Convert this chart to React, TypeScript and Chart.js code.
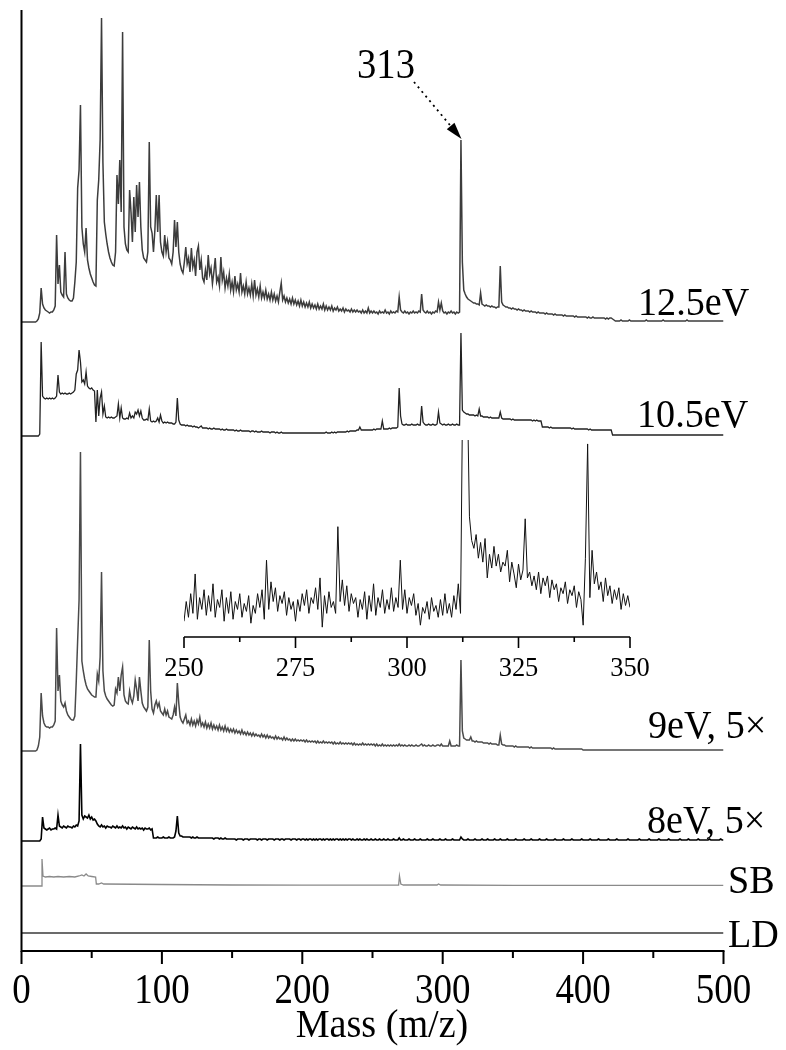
import React, { useEffect, useRef } from "react";
import { Chart, registerables } from "chart.js";

Chart.register(...registerables);

// ---------------- data ----------------
// mass axis
const MASS_MIN = 0;
const MASS_MAX = 500;
const MASS_STEP = 1; // spectra sampled every 1 m/z from 0 to 500
const MAIN_TICKS = [0, 100, 200, 300, 400, 500];
const MAIN_MINOR = [50, 150, 250, 350, 450];

// intensities above each trace's own baseline (arbitrary units)
const I_125 = [
  0, 0, 0, 0, 0, 0, 0, 0, 0, 0,
  0, 1, 3, 9, 34, 18, 14, 12, 11, 10,
  9, 10, 10, 12, 16, 87, 38, 57, 30, 27,
  25, 70, 28, 24, 22, 21, 21, 24, 40, 60,
  134, 152, 217, 95, 78, 70, 94, 62, 54, 48,
  44, 40, 37, 36, 122, 142, 182, 304, 159, 100,
  88, 78, 70, 64, 60, 57, 56, 70, 147, 118,
  162, 110, 290, 95, 78, 72, 70, 132, 110, 80,
  125, 90, 137, 105, 140, 95, 72, 64, 62, 60,
  70, 180, 95, 89, 70, 92, 127, 90, 127, 80,
  70, 66, 87, 70, 80, 64, 62, 58, 70, 102,
  75, 100, 70, 58, 52, 49, 60, 75, 58, 64,
  50, 74, 55, 62, 46, 70, 76, 52, 62, 44,
  40, 52, 42, 67, 48, 54, 38, 50, 64, 40,
  45, 36, 65, 42, 50, 34, 44, 36, 48, 32,
  40, 30, 46, 32, 38, 30, 49, 30, 36, 28,
  40, 28, 34, 27, 38, 26, 42, 27, 33, 25,
  36, 24, 30, 24, 32, 23, 28, 22, 30, 22,
  28, 21, 26, 20, 30, 39, 22, 26, 20, 24,
  19, 23, 18, 24, 18, 22, 17, 21, 16, 22,
  16, 20, 15, 19, 15, 20, 14, 18, 14, 17,
  13, 18, 13, 16, 13, 18, 12, 16, 12, 15,
  12, 16, 11, 14, 12, 15, 11, 13, 11, 14,
  10, 13, 11, 12, 10, 13, 10, 12, 10, 12,
  10, 11, 9, 12, 9, 11, 9, 14, 9, 11,
  9, 11, 9, 10, 8, 11, 9, 10, 9, 12,
  9, 10, 8, 11, 9, 10, 9, 11, 10, 25,
  12, 10, 9, 11, 9, 10, 8, 10, 9, 11,
  9, 10, 9, 11, 10, 28, 12, 10, 9, 11,
  9, 10, 8, 10, 9, 11, 10, 20, 12, 19,
  11, 9, 10, 8, 10, 9, 11, 9, 10, 8,
  10, 9, 10, 182, 60, 32, 28, 25, 23, 22,
  21, 20, 19, 19, 18, 18, 17, 29, 18, 17,
  16, 17, 16, 16, 15, 16, 15, 15, 14, 15,
  15, 56, 20, 17, 16, 15, 15, 14, 14, 13,
  14, 13, 13, 12, 13, 12, 12, 11, 12, 11,
  11, 11, 10, 11, 10, 10, 10, 9, 10, 9,
  9, 9, 9, 8, 9, 8, 8, 8, 8, 7,
  8, 7, 7, 7, 7, 7, 6, 7, 6, 6,
  6, 6, 6, 6, 5, 6, 5, 5, 5, 5,
  5, 5, 5, 4, 5, 4, 4, 5, 4, 4,
  4, 4, 4, 4, 4, 4, 3, 4, 3, 4,
  4, 3, 2, 1, 1, 1, 1, 2, 1, 1,
  1, 1, 1, 2, 1, 1, 1, 1, 1, 1,
  1, 1, 1, 1, 1, 2, 1, 1, 1, 1,
  1, 1, 1, 1, 1, 1, 1, 2, 1, 1,
  1, 1, 1, 1, 1, 1, 1, 1, 1, 1,
  1, 1, 1, 1, 2, 1, 1, 1, 1, 1,
  1, 1, 1, 1, 1, 1, 1, 1, 1, 1,
  1, 1, 1, 1, 1, 1, 1, 1, 1, 1, 1,
];

const I_105 = [
  0, 0, 0, 0, 0, 0, 0, 0, 0, 0,
  0, 0, 0, 2, 94, 40, 38, 37, 38, 37,
  38, 37, 38, 37, 38, 40, 61, 44, 42, 43,
  42, 43, 42, 42, 43, 42, 43, 44, 46, 62,
  66, 86, 74, 54, 56, 52, 64, 50, 48, 47,
  48, 46, 45, 14, 46, 20, 38, 44, 22, 30,
  19, 18, 19, 18, 19, 18, 18, 19, 20, 32,
  18, 28, 18, 17, 17, 18, 17, 23, 18, 20,
  18, 24, 22, 26, 20, 25, 18, 16, 16, 17,
  16, 27, 15, 14, 15, 14, 15, 18, 14, 21,
  15, 13, 14, 13, 14, 13, 13, 13, 12, 12,
  14, 38, 16, 12, 11, 11, 11, 10, 11, 10,
  10, 10, 9, 10, 9, 9, 8, 9, 10, 8,
  8, 8, 8, 7, 8, 7, 7, 8, 7, 7,
  7, 7, 6, 7, 6, 6, 7, 6, 6, 6,
  6, 6, 5, 6, 5, 5, 6, 5, 5, 5,
  5, 5, 5, 4, 5, 5, 4, 5, 4, 4,
  4, 5, 4, 4, 4, 4, 4, 3, 4, 4,
  4, 3, 4, 3, 3, 4, 3, 3, 3, 3,
  3, 3, 3, 3, 3, 3, 3, 3, 3, 3,
  3, 3, 3, 3, 3, 3, 3, 3, 3, 3,
  3, 3, 3, 3, 3, 3, 3, 4, 3, 3,
  3, 4, 3, 4, 3, 4, 4, 4, 4, 4,
  4, 4, 5, 4, 5, 5, 5, 5, 5, 6,
  6, 9, 6, 6, 6, 6, 6, 6, 6, 6,
  6, 7, 6, 7, 7, 7, 7, 15, 7, 7,
  7, 7, 8, 7, 8, 8, 8, 8, 9, 48,
  20, 12, 11, 11, 12, 11, 11, 11, 12, 11,
  11, 11, 12, 11, 11, 30, 14, 12, 11, 11,
  12, 11, 11, 12, 11, 11, 12, 24, 13, 12,
  11, 12, 11, 11, 12, 11, 11, 12, 11, 11,
  12, 11, 11, 103, 26, 24, 23, 22, 22, 21,
  21, 21, 21, 20, 21, 20, 27, 20, 20, 19,
  19, 19, 19, 18, 19, 18, 18, 18, 18, 18,
  18, 24, 18, 17, 17, 17, 17, 17, 17, 16,
  17, 16, 16, 16, 16, 16, 16, 16, 16, 16,
  16, 16, 16, 16, 15, 16, 15, 16, 15, 15,
  15, 9, 9, 9, 9, 9, 8, 9, 8, 8,
  8, 8, 8, 8, 8, 8, 8, 8, 8, 8,
  8, 8, 7, 8, 7, 7, 7, 7, 7, 7,
  7, 7, 7, 7, 6, 7, 6, 6, 6, 6,
  6, 6, 6, 6, 6, 6, 6, 6, 6, 6,
  6, 1, 1, 1, 1, 1, 1, 1, 1, 1,
  1, 1, 1, 1, 1, 1, 1, 1, 1, 1,
  1, 1, 1, 1, 1, 1, 1, 1, 1, 1,
  1, 1, 1, 1, 1, 1, 1, 1, 1, 1,
  1, 1, 1, 1, 1, 1, 1, 1, 1, 1,
  1, 1, 1, 1, 1, 1, 1, 1, 1, 1,
  1, 1, 1, 1, 1, 1, 1, 1, 1, 1,
  1, 1, 1, 1, 1, 1, 1, 1, 1, 1, 1,
];

const I_9 = [
  0, 0, 0, 0, 0, 0, 0, 0, 0, 0,
  0, 1, 5, 14, 58, 35, 28, 25, 24, 24,
  23, 24, 24, 26, 30, 123, 60, 76, 50, 46,
  44, 48, 40, 36, 34, 32, 31, 31, 35, 70,
  111, 151, 299, 90, 80, 72, 66, 62, 60, 58,
  56, 55, 54, 54, 77, 70, 94, 179, 80, 60,
  55, 52, 50, 48, 46, 45, 46, 62, 58, 74,
  60, 76, 84, 56, 50, 48, 47, 60, 52, 48,
  55, 71, 62, 50, 74, 60, 48, 44, 42, 40,
  44, 111, 60, 42, 38, 46, 50, 44, 48, 40,
  38, 36, 42, 36, 40, 34, 33, 32, 36, 44,
  35, 68, 48, 34, 30, 28, 32, 36, 28, 30,
  26, 32, 26, 30, 25, 31, 27, 34, 25, 28,
  24, 29, 23, 27, 23, 28, 22, 26, 22, 25,
  21, 26, 21, 24, 20, 25, 20, 23, 19, 22,
  19, 22, 18, 21, 18, 20, 17, 21, 17, 19,
  16, 19, 16, 18, 15, 18, 15, 17, 15, 16,
  14, 17, 14, 16, 13, 16, 13, 15, 13, 14,
  12, 15, 12, 14, 12, 13, 11, 14, 11, 13,
  11, 12, 10, 12, 10, 12, 10, 11, 10, 11,
  10, 11, 9, 11, 9, 10, 9, 10, 9, 10,
  8, 10, 8, 9, 8, 10, 8, 9, 8, 9,
  8, 9, 7, 9, 7, 8, 7, 9, 7, 8,
  7, 8, 7, 8, 7, 8, 6, 8, 6, 7,
  6, 7, 6, 8, 6, 7, 6, 7, 6, 7,
  6, 7, 5, 7, 5, 6, 5, 7, 5, 6,
  5, 6, 5, 6, 5, 6, 5, 6, 5, 7,
  5, 6, 5, 6, 5, 5, 6, 5, 6, 5,
  5, 6, 5, 5, 6, 7, 5, 6, 5, 5,
  6, 5, 5, 6, 5, 5, 6, 6, 5, 7,
  5, 5, 5, 5, 5, 10, 5, 5, 5, 5,
  6, 5, 5, 91, 20, 13, 12, 11, 11, 11,
  14, 10, 10, 9, 10, 9, 9, 9, 9, 8,
  8, 8, 8, 7, 8, 7, 7, 7, 7, 6,
  6, 16, 7, 6, 6, 5, 5, 5, 5, 5,
  5, 4, 5, 4, 4, 4, 4, 4, 4, 4,
  4, 4, 3, 4, 3, 3, 3, 3, 3, 3,
  3, 3, 3, 3, 3, 3, 3, 3, 2, 3,
  2, 2, 2, 2, 2, 2, 2, 2, 2, 2,
  2, 2, 2, 2, 2, 2, 2, 2, 2, 2,
  1, 1, 1, 1, 1, 1, 1, 1, 1, 1,
  1, 1, 1, 1, 1, 1, 1, 1, 1, 1,
  1, 1, 1, 1, 1, 1, 1, 1, 1, 1,
  1, 1, 1, 1, 1, 1, 1, 1, 1, 1,
  1, 1, 1, 1, 1, 1, 1, 1, 1, 1,
  1, 1, 1, 1, 1, 1, 1, 1, 1, 1,
  1, 1, 1, 1, 1, 1, 1, 1, 1, 1,
  1, 1, 1, 1, 1, 1, 1, 1, 1, 1,
  1, 1, 1, 1, 1, 1, 1, 1, 1, 1,
  1, 1, 1, 1, 1, 1, 1, 1, 1, 1, 1,
];

const I_8 = [
  0, 0, 0, 0, 0, 0, 0, 0, 0, 0,
  0, 0, 0, 0, 2, 24, 13, 12, 11, 12,
  13, 11, 12, 12, 13, 12, 26, 15, 14, 13,
  15, 14, 13, 15, 14, 14, 13, 15, 14, 16,
  15, 20, 97, 26, 22, 25, 24, 23, 26, 22,
  24, 21, 22, 20, 17, 15, 14, 16, 14, 15,
  13, 15, 14, 14, 13, 15, 14, 13, 15, 13,
  14, 13, 15, 13, 14, 12, 14, 13, 12, 14,
  13, 12, 14, 12, 13, 12, 13, 11, 13, 12,
  12, 13, 11, 12, 3, 3, 3, 4, 3, 3,
  3, 4, 3, 3, 3, 4, 3, 3, 3, 4,
  10, 25, 8, 5, 5, 4, 4, 4, 4, 4,
  4, 3, 4, 3, 3, 4, 3, 3, 3, 3,
  3, 3, 3, 3, 3, 3, 3, 2, 3, 3,
  3, 2, 3, 2, 2, 3, 2, 2, 2, 2,
  2, 2, 2, 1, 2, 2, 2, 2, 1, 2,
  2, 2, 1, 2, 2, 2, 2, 2, 1, 2,
  2, 1, 2, 2, 2, 1, 2, 2, 2, 2,
  1, 2, 2, 2, 1, 2, 2, 1, 2, 2,
  2, 2, 1, 2, 2, 2, 1, 2, 2, 1,
  2, 2, 1, 2, 1, 2, 2, 1, 2, 1,
  2, 1, 2, 2, 1, 2, 1, 2, 2, 1,
  2, 1, 2, 1, 2, 2, 1, 2, 1, 2,
  1, 2, 1, 2, 2, 1, 2, 1, 1, 2,
  1, 2, 1, 1, 2, 1, 2, 1, 1, 2,
  1, 1, 2, 1, 1, 2, 1, 1, 2, 1,
  1, 2, 1, 1, 1, 2, 1, 1, 1, 3,
  1, 1, 2, 1, 1, 1, 2, 1, 1, 1,
  2, 1, 1, 1, 2, 1, 1, 1, 1, 2,
  1, 1, 1, 2, 1, 1, 1, 1, 2, 1,
  1, 1, 2, 1, 1, 1, 1, 2, 1, 1,
  1, 1, 1, 4, 2, 1, 1, 1, 2, 1,
  1, 1, 1, 2, 1, 1, 1, 1, 2, 1,
  1, 1, 2, 1, 1, 1, 1, 2, 1, 1,
  1, 2, 1, 1, 1, 1, 2, 1, 1, 1,
  1, 1, 2, 1, 1, 1, 1, 1, 2, 1,
  1, 1, 1, 2, 1, 1, 1, 1, 1, 2,
  1, 1, 1, 1, 2, 1, 1, 1, 1, 1,
  2, 1, 1, 1, 1, 1, 2, 1, 1, 1,
  1, 1, 2, 1, 1, 1, 1, 1, 1, 2,
  1, 1, 1, 1, 1, 2, 1, 1, 1, 1,
  1, 2, 1, 1, 1, 1, 1, 1, 2, 1,
  1, 1, 1, 1, 2, 1, 1, 1, 1, 1,
  1, 1, 2, 1, 1, 1, 1, 1, 1, 1,
  2, 1, 1, 1, 1, 1, 1, 2, 1, 1,
  1, 1, 1, 1, 2, 1, 1, 1, 1, 1,
  1, 2, 1, 1, 1, 1, 1, 1, 1, 2,
  1, 1, 1, 1, 1, 2, 1, 1, 1, 1,
  1, 1, 2, 1, 1, 1, 1, 1, 1, 1,
  2, 1, 1, 1, 1, 1, 1, 1, 2, 1, 1,
];

// sparse traces: [mass, intensity]
const I_SB: [number, number][] = [
  [0, 0], [14, 0], [14.6, 27], [15.3, 10], [17, 9], [20, 9.5], [23, 9], [26, 9.5],
  [30, 9], [34, 9.5], [38, 9], [41, 10], [43, 11], [44.5, 10], [46, 12], [47.5, 10],
  [50, 9.5], [52.8, 9], [53.3, 2], [55, 2], [57, 3], [58.5, 2], [100, 1.5], [150, 1],
  [200, 0.8], [268.6, 0.8], [269.2, 10], [270.2, 2], [272, 1], [296, 1], [297, 2],
  [298.5, 1], [350, 0.6], [500, 0.6],
];
const I_LD: [number, number][] = [[0, 0], [500, 0]];

// inset: zoom of 250-350, sampled every 0.5 m/z
const INSET_MIN = 250;
const INSET_MAX = 350;
const INSET_STEP = 0.5;
const INSET_TICKS = [250, 275, 300, 325, 350];
const INSET_MINOR = [262.5, 287.5, 312.5, 337.5];
const I_INSET = [
  8, 18, 10, 22, 12, 32, 9, 20, 14, 24,
  11, 21, 13, 27, 10, 19, 15, 24, 8, 20,
  12, 23, 9, 18, 14, 22, 10, 17, 13, 21,
  7, 16, 12, 22, 15, 24, 9, 39, 14, 28,
  18, 25, 13, 21, 17, 23, 11, 20, 14, 18,
  8, 19, 13, 22, 16, 24, 12, 20, 17, 25,
  14, 30, 5, 21, 12, 23, 15, 18, 12, 56,
  18, 29, 16, 26, 13, 22, 17, 20, 10, 19,
  14, 23, 9, 21, 13, 27, 11, 20, 15, 24,
  12, 19, 14, 25, 13, 20, 15, 39, 14, 24,
  12, 20, 16, 22, 11, 17, 6, 15, 12, 18,
  9, 20, 13, 16, 10, 19, 11, 22, 12, 17,
  10, 21, 14, 27, 12, 130, 130, 130, 61, 49,
  45, 52, 40, 48, 38, 50, 30, 42, 35, 46,
  36, 42, 33, 38, 36, 44, 28, 38, 32, 25,
  37, 29, 34, 60, 30, 33, 26, 31, 24, 33,
  22, 30, 26, 31, 20, 29, 24, 27, 18, 25,
  22, 28, 17, 24, 21, 26, 15, 23, 19, 6,
  40, 98, 20, 44, 27, 33, 24, 28, 18, 30,
  21, 26, 17, 24, 19, 25, 14, 22, 16, 21,
  15,
];
const INSET_Y_MAX = 100;

// trace labels
const TRACE_LABELS = ["12.5eV", "10.5eV", "9eV, 5×", "8eV, 5×", "SB", "LD"];
const ANNOT_MASS = 313;
const ANNOT_TEXT = "313";

// ---------------- layout / style (not data) ----------------
const W = 786;
const H = 1050;
const Y_MAX = 941;
const OFFSETS = [629, 515, 200, 110, 65, 18]; // baseline of each stacked trace
const COLORS = ["#3c3c3c", "#222222", "#4a4a4a", "#000000", "#8a8a8a", "#3a3a3a"];
const WIDTHS = [1.5, 1.3, 1.5, 1.6, 1.3, 1.3];
const LABEL_POS: [number, number][] = [
  [638, 315], [637, 427], [648, 738], [647, 833], [728, 893], [728, 947],
];
const SERIF = '"Liberation Serif", "Times New Roman", serif';

function drawText(
  ctx: CanvasRenderingContext2D, s: string, x: number, y: number,
  size: number, sx: number, align: "left" | "center" | "right"
) {
  ctx.save();
  ctx.font = `${size}px ${SERIF}`;
  ctx.textBaseline = "alphabetic";
  ctx.textAlign = "left";
  const w = ctx.measureText(s).width * sx;
  const x0 = align === "center" ? x - w / 2 : align === "right" ? x - w : x;
  ctx.translate(x0, y);
  ctx.scale(sx, 1);
  ctx.fillStyle = "#000";
  ctx.fillText(s, 0, 0);
  ctx.restore();
}

const evenly = (arr: number[], start: number, step: number, off: number) =>
  arr.map((v, i) => ({ x: start + i * step, y: v + off }));
const pairs = (arr: [number, number][], off: number) =>
  arr.map(([x, v]) => ({ x, y: v + off }));

export default function App() {
  const mainRef = useRef<HTMLCanvasElement | null>(null);
  const insetRef = useRef<HTMLCanvasElement | null>(null);

  useEffect(() => {
    if (!mainRef.current || !insetRef.current) return;

    const series = [
      evenly(I_125, MASS_MIN, MASS_STEP, OFFSETS[0]),
      evenly(I_105, MASS_MIN, MASS_STEP, OFFSETS[1]),
      evenly(I_9, MASS_MIN, MASS_STEP, OFFSETS[2]),
      evenly(I_8, MASS_MIN, MASS_STEP, OFFSETS[3]),
      pairs(I_SB, OFFSETS[4]),
      pairs(I_LD, OFFSETS[5]),
    ];

    const mainAxes = {
      id: "mainAxes",
      afterDraw(chart: any) {
        const ctx: CanvasRenderingContext2D = chart.ctx;
        const xs = chart.scales.x;
        const ys = chart.scales.y;
        const x0 = xs.getPixelForValue(MASS_MIN);
        const x1 = xs.getPixelForValue(MASS_MAX);
        const yb = ys.getPixelForValue(0);
        const yt = chart.chartArea.top;
        ctx.save();
        ctx.strokeStyle = "#000";
        ctx.lineWidth = 2;
        ctx.beginPath();
        ctx.moveTo(x0, yt);
        ctx.lineTo(x0, yb);
        ctx.lineTo(x1 + 1, yb);
        ctx.stroke();
        ctx.beginPath();
        MAIN_TICKS.forEach((t) => {
          const p = xs.getPixelForValue(t);
          ctx.moveTo(p, yb);
          ctx.lineTo(p, yb + 13);
        });
        MAIN_MINOR.forEach((t) => {
          const p = xs.getPixelForValue(t);
          ctx.moveTo(p, yb);
          ctx.lineTo(p, yb + 7);
        });
        ctx.stroke();
        ctx.restore();

        MAIN_TICKS.forEach((t) => {
          drawText(ctx, String(t), xs.getPixelForValue(t), 1003, 42, 0.88, "center");
        });
        drawText(ctx, "Mass (m/z)", 382, 1037, 41, 0.93, "center");

        TRACE_LABELS.forEach((s, i) => {
          drawText(ctx, s, LABEL_POS[i][0], LABEL_POS[i][1], 41, 0.93, "left");
        });

        // 313 annotation with dotted arrow
        drawText(ctx, ANNOT_TEXT, 357, 78, 42, 0.92, "left");
        const tipX = xs.getPixelForValue(ANNOT_MASS + 0.4);
        const tipY = ys.getPixelForValue(OFFSETS[0] + 182) - 1;
        const sx = 414, sy = 82;
        const dx = tipX - sx, dy = tipY - sy;
        const len = Math.hypot(dx, dy);
        const ux = dx / len, uy = dy / len;
        const bx = tipX - ux * 17, by = tipY - uy * 17;
        ctx.save();
        ctx.strokeStyle = "#000";
        ctx.lineWidth = 1.8;
        ctx.setLineDash([2, 4]);
        ctx.beginPath();
        ctx.moveTo(sx, sy);
        ctx.lineTo(bx, by);
        ctx.stroke();
        ctx.setLineDash([]);
        ctx.fillStyle = "#000";
        ctx.beginPath();
        ctx.moveTo(tipX, tipY);
        ctx.lineTo(bx - uy * 5, by + ux * 5);
        ctx.lineTo(bx + uy * 5, by - ux * 5);
        ctx.closePath();
        ctx.fill();
        ctx.restore();
      },
    };

    const main = new Chart(mainRef.current, {
      type: "line",
      data: {
        datasets: series.map((d, i) => ({
          label: TRACE_LABELS[i],
          data: d,
          borderColor: COLORS[i],
          borderWidth: WIDTHS[i],
          pointRadius: 0,
          fill: false,
          tension: 0,
        })),
      },
      options: {
        animation: false,
        responsive: false,
        devicePixelRatio: 1,
        layout: { padding: { left: 21.5, right: 62.5, top: 10, bottom: 99 } },
        plugins: { legend: { display: false }, tooltip: { enabled: false } },
        scales: {
          x: { type: "linear", min: MASS_MIN, max: MASS_MAX, display: false },
          y: { type: "linear", min: 0, max: Y_MAX, display: false },
        },
      },
      plugins: [mainAxes],
    } as any);

    const insetAxes = {
      id: "insetAxes",
      afterDraw(chart: any) {
        const ctx: CanvasRenderingContext2D = chart.ctx;
        const xs = chart.scales.x;
        const ys = chart.scales.y;
        const yb = ys.getPixelForValue(0);
        ctx.save();
        ctx.strokeStyle = "#000";
        ctx.lineWidth = 1.6;
        ctx.beginPath();
        ctx.moveTo(xs.getPixelForValue(INSET_MIN), yb);
        ctx.lineTo(xs.getPixelForValue(INSET_MAX), yb);
        INSET_TICKS.forEach((t) => {
          const p = xs.getPixelForValue(t);
          ctx.moveTo(p, yb);
          ctx.lineTo(p, yb + 11);
        });
        INSET_MINOR.forEach((t) => {
          const p = xs.getPixelForValue(t);
          ctx.moveTo(p, yb);
          ctx.lineTo(p, yb + 5);
        });
        ctx.stroke();
        ctx.restore();
        INSET_TICKS.forEach((t) => {
          drawText(ctx, String(t), xs.getPixelForValue(t), yb + 39, 27, 0.98, "center");
        });
      },
    };

    const inset = new Chart(insetRef.current, {
      type: "line",
      data: {
        datasets: [
          {
            label: "inset",
            data: evenly(I_INSET, INSET_MIN, INSET_STEP, 0),
            borderColor: "#111",
            borderWidth: 1,
            pointRadius: 0,
            fill: false,
            tension: 0,
          },
        ],
      },
      options: {
        animation: false,
        responsive: false,
        devicePixelRatio: 1,
        layout: { padding: { left: 34, right: 40, top: 20, bottom: 63 } },
        plugins: { legend: { display: false }, tooltip: { enabled: false } },
        scales: {
          x: { type: "linear", min: INSET_MIN, max: INSET_MAX, display: false },
          y: { type: "linear", min: 0, max: INSET_Y_MAX, display: false },
        },
      },
      plugins: [insetAxes],
    } as any);

    return () => {
      main.destroy();
      inset.destroy();
    };
  }, []);

  return (
    <div style={{ position: "absolute", left: 0, top: 0, width: W, height: H, background: "#fff", overflow: "hidden" }}>
      <canvas ref={mainRef} width={W} height={H} style={{ position: "absolute", left: 0, top: 0, width: W, height: H }} />
      <canvas ref={insetRef} width={520} height={280} style={{ position: "absolute", left: 150, top: 420, width: 520, height: 280 }} />
    </div>
  );
}
